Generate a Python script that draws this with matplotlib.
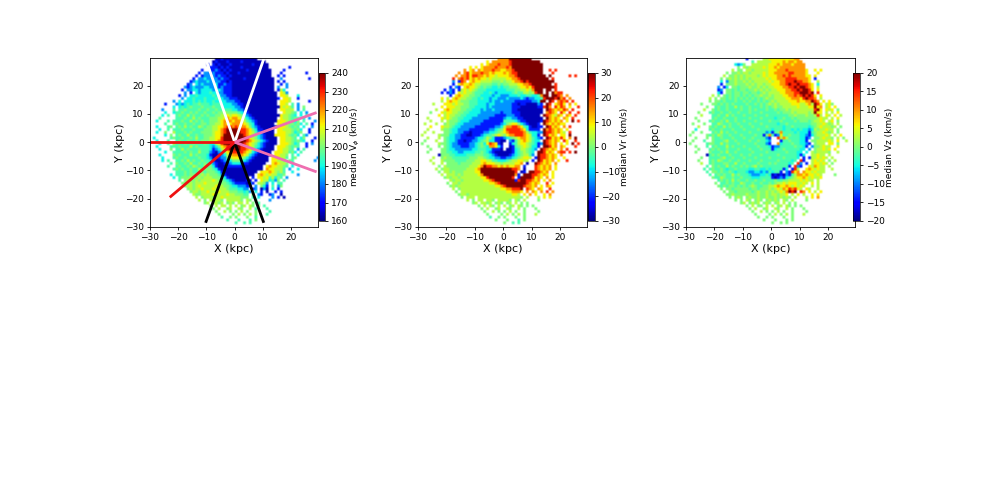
import numpy as np
import matplotlib
matplotlib.use("Agg")
import matplotlib.pyplot as plt

# Estimated map, 1 kpc cells, rows from Y=29 down to Y=-30, six 10-kpc column groups from X=-30.
# Letters name a jet colour, decoded to a fraction of the colour range below.
LEVELS = {"D": 0.05, "B": 0.15, "A": 0.27, "C": 0.37, "T": 0.44, "G": 0.5,
          "L": 0.57, "Y": 0.65, "O": 0.75, "R": 0.87, "M": 1.0}
E = ".........."

vphi_rows = [
f"{E} {E} ...DDBDDDD DDDDDDDD.. {E} {E}",
f"{E} {E} ..DBDDDBDD DDBDDDDDDD D......... {E}",
f"{E} {E} B.BDBDDDBD DDDDDDBDDD DD........ {E}",
f"{E} {E} .BBBDBDBDD DDBDDDDDDD DD.......B {E}",
f"{E} ........B. .BBABDBDBD DDDDBDDDDD DDD....B.. {E}",
f"{E} .......B.A ABABBBDBDD DBDDDDDDDD DDD...B... .....B....",
f"{E} ......B.BA AAABABBDBD DDDDDDDDDD DDD..B.B.. {E}",
f"{E} .....B.AAC AAAABABBDD DDDBDDDDDD DDDD..A... ......B...",
f"{E} ....BACAAA CAAAABBDBD DDDDDDDDDD DDDD.B.B.. {E}",
f"{E} ...BA.CACA AAACBBABBD DDDDDDDDDD DDDD..B.A. {E}",
f"{E} ..ABACAAAC CAACBABBBD DDDDDDDDDD DDDD.A..A. {E}",
f"{E} .B.AACCACC CCAACABBBD DDDDDDDDDD DDDD.BLC.. {E}",
f"{E} ..A.B.CACC CTCCAABBBD DDDDDDDDDD DDDDD.YLA. {E}",
f"{E} B.A.CCTCCC CCTCCAABBD DDDDDDDDDD DDDDD.YYL. ..C.......",
f"{E} .A.CCTCCCT CCCTCCAABB BDDDDDDDDD DDDDDB.YYL ..B.......",
f"........A. C.CCCTCTCT CCTCCCCAAA BBDDDDDDDD DDDDD.YYYL ......B...",
f".....B...A CACTCTTGTT TCTTTCCCCA ABBDDDDDDD DDDDD.YYL. T.A.......",
f"........C. CTCTGTTTGT TTGTTTCCCC AABDDDDDDD DDDDDDYLYL T.A.G.....",
f"....A...T. TTGTTTTGTT GTTGTTTTTC CAABDDDDDD DDDDD.YYLL L.A.T.....",
f".....C..CT TGTTGTGTTG TTGTGGLGGG GTCABDDDDD DDDDD..YLL GT.C.A....",
f"....C.T..T GTTLTGTTGT GTTGGLLYLY YLGCABDDDD DDDDDDYLLG TC.C.T....",
f"...T.....T TTGTTLTGTT TGGGLLYOYO OYLGCABDDD DDDDD.YLLG TGT.C.A...",
f"..C...T.TT TGTTLTGTGT TGGGLYOOOY OOYLTCABDD DDDDDYYYLG TCG.T...A.",
f".....T..TG TTGTTGTTGG TGGLLYOYYO OOOYLTCBDD DDDD.YYLLG GTGC.T.B..",
f"..C...TG.T GTLTGTTLGT GGLLYYORRO ROOOYGCABD DDDDDYYYLG TGT.C..A..",
f"...C..T.TT TGTTTGTTTG GGLLYORMMM MRRROYGCBB DDDD.YYLLL GTGC..B...",
f"..C..G..LT TTGTGTTTGG GGLYYORMMM MMRROYLTAB DDDD.YYYLL GCTG..B...",
f".....C.G.T GTTLTTGTTG GGLYYOMMMM MMMROYLGCA BDDDYYYYLG TGC.TA....",
f".C.....TGT TGTTGTLTTG GLLYYRMMMM MMMMRYLGCA BDDDD.YYLL GT.CG...B.",
f"..C...T..T GTTGTTGTGG GLLYORMMMM MMMMROYLGC ABDDD.YYLL GTGTC..B..",
f"...C..T.LT TTGTTGTTTG TCCLYRMMMM MMMROYLGCA BDDDD.YYYL GCT..B.A..",
f"..C....TTT GTTTLTGTTT TCACGYORMM MMRROYLTCA BDDD.YYYLG TGT..B....",
f"...C...G.T TLTGTTTGTT TCBACLYRMR MMRROYGCAB DDDD.YYLLG T.A.T.....",
f".....C..TT TTGTGTTLTT TABDACGYOR RRROYLCABD DDD.YYYLLT GC.T......",
f"...C....GT GTTTLTGTTT CBDDBACLYO OOOYLCABDD DDD.YYLLG. T.C.......",
f"....C...TG TTGTTTTGTT CADDBAAGLY YYLGCABDDD DD.YYYLLT. TG.......A",
f"....C.T..T TGTLTGTTGT TCBDDBACCG GGTCABDDDD DD.YYLLG.G T.......A.",
f".......T.G TTGTLTTGTG TTABDDBBAC CCABBDDDDD D..YOYLLG. C.........",
f"......T..T GTTGTLGTTL TGCBDDDBBB BBBDDDDDDD .YOYYLLGT. C.........",
f"........TG TGTTGTTLTG GGTCBDDDDD DDDDDDDDDD .OYYLLLT.A ..C.......",
f".........T TTGTGTTGGT GGGTCBDDDD DDDDDDDD.Y YYOYLGLT.. C.........",
f".......C.T TTGTGGGGLG LGGGTABDDD DDDDDDD.YO YLYLLTTG.. ..A.......",
f"........C. TGGGLGGLGL LLGGGTCBDD DDDDD.B.YY LYTLCGT.A. {E}",
f"{E} T.GLGGLGLL LLYLGGTCAB DDDDBD.B.Y LLCTAG.T.. {E}",
f"{E} .GGGLGLLLY LLLLLGGTCA BBBBDAB.LL GA.C.TT... {E}",
f"{E} ..GLLGLYLL LLLYLLGGTC CAAABB.A.G CB.T.AG... {E}",
f"{E} ...GLGLLYL LLYLLLLGTT TCCAA.BA.D AD.C.B.... {E}",
f"{E} ....GLLGLL YLLLYLLLGG GTTCTA.C.B .D..B.B... {E}",
f"{E} .....LGGLL LLYLLLLYLL GGGTT.G.AB ..BA..D... {E}",
f"{E} ......L.GL LLGLLYLLLL LLGGG.T.C. ...A.B.D.. {E}",
f"{E} .......L.G .LLLLG.LLL LLG.LG.T.. ..A....... {E}",
f"{E} .........G L.LLGL.GLG .LL.L.G.T. {E} {E}",
f"{E} {E} .G.L.LL.L. L.GL.LG.G. T......... {E}",
f"{E} {E} ..G.L..GL. .LG..L.T.. .T........ {E}",
f"{E} {E} ...G..L.G. G.L.G..G.. ..T....... {E}",
f"{E} {E} ....G....G .L.G.L.G.. .T........ {E}",
f"{E} {E} .....T..G. G...G..T.. {E} {E}",
f"{E} {E} .......T.. .T...T.G.. {E} {E}",
f"{E} {E} {E} T..T.T.... {E} {E}",
f"{E} {E} {E} {E} {E} {E}",
]
vr_rows = [
f"{E} {E} ........OO OOMMMMMMMM {E} {E}",
f"{E} {E} ....Y.OOOO OORMMMMMMM MMM....... {E}",
f"{E} {E} ..Y.YOOORO OORMMMMMMM MMMM...... {E}",
f"{E} ........Y. Y.YOOOOROO OROMMMMMMM MMMM...... {E}",
f"{E} ......O.YO .OYOOOROOY YOORMMMMMM MMMM..R.R. {E}",
f"{E} ....O.ORYO OOROOYOYYY OYORRMMMMM MMMM...R.. {E}",
f"{E} ...O.OORYR ROOYOYYLYY YYOORMMMMM MMMMM.M... ...R.R....",
f"{E} ..R.ORORYO YOYYLYLLLL LYYOORMMMM MMMMMM.R.. {E}",
f"{E} ..A.BRO.YO YYLLLLGGGL GLLYOORMRM MMMMMMMM.. {E}",
f"{E} ..B.YOYYOY LLGGGGTTGT GGLLLYYOOR MMMMMMM.R. {E}",
f"{E} .B.AB.YOYY LGTGTTCCTC TTGGGLYYOY RMMMMMMMR. {E}",
f".........B .AB.BLYLYL GTTTCCCCCC CTTTGGLLYL OMMM.MM.R. {E}",
f"........B. BAB.YLYLLG TTTCCTCACC CCCTGTTLLG LRMM.M.MOR R.........",
f"{E} .B.YOYLLGG TTCCCCACCA AACCCTCCTT CCTOMM.MMR O.O.......",
f"........Y. L.YOYLLGGT TCTCCACCAA ACAAAACABA ACCTRMMMRM OR.O......",
f"........L. YOYYLGGGTT TCCCCACAAC AAAABBBBBB AACMM.MR.O ROR.R.....",
f".....L...Y YYLYLLGGTT TCCCACCAAA AAABBDBBDD DDAB.MR.YO RY.O.Y....",
f"........Y. YYYLLGGGTT CCCCACAAAA AAABBBDDDD DDBBRMO.RY RO.Y..R...",
f"......L..Y OYLLLGGTTC CCACAACAAA AAABBDDDDD DDDD.MROYO YRO.R.....",
f"....G...YL YYLLGGTTCC CCAAAAAAAB AAABBBDDDD DDDD.OROY. RY.R..R...",
f".......Y.L YLLGGTTCCC CAAAAAABBB BAAABBDDDD DDD.MROYLO Y.OY.R....",
f"...L....YL YLGGTTCCCA AAAAABBBBB ACCAABBDDD DDDD.MOYOY .OY.R.....",
f"....L...L. LGGGTCCCAA AAABBBBBBB TTTTCABBDD DDDBMROYOY O.Y.M.R...",
f"..L...L..G LGGTCCAAAA AABBBBBBBA CGLYYGCABD DDB.MOYOYO YY........",
f"....Y...YL LGTCCAAAAA BBBBBBBAAC LOORROYTCB DDBB.MRYOY .O.R......",
f"...L....LG GTCCAAAABB BBBBBAACTG YRRRRROYCB BBB.MOROYO Y.Y.......",
f"..L..L...G GTCCAABBDB BBBAACCTGL YORRRRROLT CCAAMRROYO YL.R......",
f".L.....LGG GCCAABBDDB BBACTTGLYL GYOORRROYL CCB.MRYOY. YY.M......",
f"...L...L.G TCCAABBBBB ACCTLGCBBB ACTGLYOOYL TCAB.MRYOY RY.O.M....",
f"..G...L..G TCCABBDBBA ACTGLCCBBD D.ABTLYOYL TCC.MROYOY .RY..R....",
f".G.....LGG TCAABBBBAA CTGCYROYBD ..BCTLYYLG TCBAMROYO. Y.Y.M.R...",
f"...G...G.G TCAAABBBAA CTGTCOOYCB ..DBTGLYLG CCB.MMRYO. OY...R....",
f"....G...GG TCCAAAAAAC CTTTCCBBBD .DDBCTLLGT CA.MROYOY. O.R.......",
f"...G....GG TTCCAACCCC TTGTCABDDD DDDBCTGLGT C.MMRYOY.O RR.R.M....",
f".......DGG GTTCCCCTTT GGGTTCABDD DDBACTGLLT A.MRROYOY. O.........",
f".....L..GL GGTTTTTTGG GLLGTCCAAB BAACTGLYYL .BMRROYOY. .Y........",
f"....L...LG GGGTTTTGGG LLYYLLTTCC CTGLLYYLL. B.MRYOYO.Y ..R.......",
f".....L..L. GGGGTGGGGL LLYOYYYLLG LLLLYYO.D. .MROYOY.O. {E}",
f".......G.L GGGGGGGGLL LYOMRROOYO YOYYOO.B.. .ROYOYO.Y. {E}",
f"......L.GL LGGGGGGLLL YOMMMMMMMM MMMRRO.D.. .ROYOYO.Y. {E}",
f".......G.L LGLGGGLLLL YYMMMMMMMM MMMMR.DB.M MRROYO.Y.. {E}",
f"........L. LLLGLGLLLL LYOMMMMMMM MMMMOB.MMM RROYOY.Y.. {E}",
f".........G LGLLGLLLLL LLYYRMMMMM MMMR.BMMMM RYOY.O.Y.. {E}",
f"{E} .LGLLGLLLL LLLYYORMMM MMMMBRMMRR OYO.Y.O... {E}",
f"{E} G.LLGLLLLL LLLLLYYORM MMMMMMMMRO YOY..R.Y.. {E}",
f"{E} .GLGLLLLLL LLLLLLLYYO RMMMMMMROO YO.Y.OY... {E}",
f"{E} ..L.GLLLLL LLLLLLLLLY YOORRRM.RO Y.OY..R... {E}",
f"{E} ...G.LLLLL LLLLLLLLLL LYYOOOY.O. OY.O.R.O.. {E}",
f"{E} ....GLLGLL LLLLLLLLLL LLLYYL.Y.O .Y..Y.O... {E}",
f"{E} .....G.LLL .LLLLLLLLL LLLLLLG.L. ..L.Y.Y... {E}",
f"{E} .......L.G .LL.LLG.LL LLG.LG.L.. ..G....... {E}",
f"{E} .........G L.LLGL.GLG .GL.L.G.G. {E} {E}",
f"{E} {E} .G.L.LG.L. L.GL.LG.G. G......... {E}",
f"{E} {E} ..G.L..GL. .LG..L.G.. .G........ {E}",
f"{E} {E} ...G..L.G. G.L.G..G.. ..G....... {E}",
f"{E} {E} ....G....G .L.G.L.G.. .L........ {E}",
f"{E} {E} .....T..G. G...G..G.. {E} {E}",
f"{E} {E} .......G.. .G...T.G.. {E} {E}",
f"{E} {E} {E} G..T.T.... {E} {E}",
f"{E} {E} {E} {E} {E} {E}",
]
vz_rows = [
f"{E} {E} .B.....LLY YYYYYYYYOO {E} {E}",
f"{E} {E} ...T.LLLLL YYYYOYOOYO O......... {E}",
f"{E} .......CAC G..LLLLLLY YYOYOOOYOO OO........ {E}",
f"{E} ........G. LGLLLLLYLY YOYOOOOOOO OO........ {E}",
f"{E} ......L.GG .LLGLLLLLY YYOOOROOOO OOY..Y.Y.. {E}",
f"{E} ....G.GGLG LLGLLLLYLY YOOOOORROO OOY...Y... {E}",
f"{E} ...L.GGLGL GLLLLGLYLY YYOOROROOO OOYY.Y.... {E}",
f"{E} ..G.GLGLGL GLGLLLLLYL YYOOORRRRO OOOY.B.... {E}",
f"{E} ..C.AGGLGG LGLGLLLLLY LYYOORRRMR ROOY..L... {E}",
f"{E} ..B.GGGLGG GLGLGLLGLL YYYOORMRRM RRROY.C... {E}",
f"{E} .A.BC.GGTG GGLGGLGLGL LYYYOORRMR MMROY.L... {E}",
f"{E} .BA.GGTGTG GTGGLGLGLG LLYYYOORRM RMMRY.Y... {E}",
f"{E} .CB.GGTGGT GGTGGTGLGL LLLYYOOORR MMMRM.R... {E}",
f".........L .G.GTGTGGT GTGTGGLGGL GLLLYYOORO RMRMRY.Y.. {E}",
f"........L. G.GGTGTGTG TGTGTGTGLG GLLLLYYOOO YRMRRO.L.. {E}",
f"........G. GGTGTTTGTT GTGTTGTGTG LGLLLLYYYO YYOOMRO.Y. Y.........",
f".....G...G GTGTGTGTTT TGTTGTGTGL GLGLLLLYYY LLYOLMRY.L YG........",
f".......G.. TGTTGTTLTG TTGTTTGTGT GLGGLLLLLY LLLYYMYO.L Y.Y.......",
f"......L..G TGTTGTTTTG TTGTGTTTGT TGTGGLGLLL LLLLLRMY.Y LY.G......",
f"....G...TG TTGTTGTTGT TTGTTTGTTT TTGTGGGLGL LLLGLMYY.L .L.Y......",
f".....L...T TGTTLTGTTT GTTTGTTTGT TTTTTTGGLG GGLGGLRL.Y L.Y.L.....",
f"...G.....T GTTGTTTGTT TTGTTTGTTT TCTTGTTGTG GGGGGGLYLL .L.Y......",
f"....G...TG TTGTLTTGTT GTTTGTTTTG TTTGTTTTGT GGGTGLLYL. LY.G......",
f"..G...G..T TLGTTGTTGT TTGTTTGTTT TTCTTGTTTT TTTTGGLLYL GL.L......",
f"....L...GT GTTLTGTTTG TTTGTTTTGT TTTTCTTGTT TTTCTGLYLL LGL.G.....",
f"...C....TG TTGTTTGTTT GTTTTGTTTT CTTTCTTCTC TCCACLGLLY LL.G......",
f"..G..G...T GTLTGTTGTT TTGTTTTTAC BTGOTTTTCT CCCBTGLLYL GL.G......",
f".G.....GTG TLGTTGTTTG TTTTGTTBGO TBAYTTGTTT CCABCGLLLY L.L.Y.....",
f"...G...G.G TTGTTTGTTT GTTGTTTTAB ..RLOLTTTT CCBA.GGLYL LG.L.G....",
f"..G...T..G TTTGLTTGTT TTGTTGTTCA ...BTTGTTT CCB.GGLLLL YL.Y..L...",
f".G.....TGG TTLTGTTTGT TTTTGTTTAB ..OCTTTGTT CCAB.GLLL. YY.G......",
f"...G...T.T GTTTLTGTTT GTTTTGTTTC BAATTTTTGT TCB.AGGLYL L..Y......",
f"....G...TG TGTTGTTTGT TTGTTTGTTT BCTTGTTTTT CC.A.GLLYL Y.Y.......",
f"...G....GT TTGTLTTGTT TTTGTTTTGT TTTTTGTTTC C.C.LGLLLL G..L......",
f".......DTG TGTTTGTTTG TTGTTTGTTT TTGTTTTTTC BC..LLYLL. L.........",
f".....G..TT TTGLTTGTTT GTTTGTTTTG TTTTGTTTTC .B.BLLYLYL .L........",
f"....G...TG TLGTTGTTGT TTGTTTGTTT TTGTTTTCT. RB..LYLYL. G.L.......",
f".....L..TG TTTGGTTLTT GTTTTGTTTG TGTTTTCT.R A.B.LYYLYL .G........",
f".......T.G TGTTLTGTTG TGTGLTGTTT TTTTTTB.RA B..YLOYLL. L.........",
f"......T.TG TTGTCTTGTT TTCCTTCCTC TTTTBC.BRL ..YOYLYLL. .L........",
f".......T.G GTGTTGTCTT TCAACCACAT CTTB.ABRYO .OYYLYLLL. {E}",
f"........T. TGTGTTLTGT TTCAAACCTC DBDBDABTLO OYOYYLYL.. ..G.......",
f".........G TTLGTTGTTG TTTCCCTTTT BDBABCTGLY YOYLYLLY.. {E}",
f"{E} .TGTGTLTGT TGTTGTTGTT TGTTGGLLLL YLYLL.L... {E}",
f"{E} G.TTGTGTTL GTTGTTGTTG TGLLYLYYYL LYL.Y.L... {E}",
f"{E} .GTGTGGTGT GTGLGTTGGL LYOYYOYLYL YL..L.L... {E}",
f"{E} ..G.GGTGGG GGTGGTGGGL GLYLOYRORY L.YL..L... {E}",
f"{E} ...G.GGTGG GGGTGLGGLG LGLYLOMRM. RO.Y.L.Y.. {E}",
f"{E} ....GGLGGG GLGGGLGGLG LLGLLY.L.Y .L..Y.Y... {E}",
f"{E} .....G.GLG .GLGGLGGLG GLGLGLG.L. ..L.Y.O... {E}",
f"{E} .......G.G .LG.GLG.GL GLG.LG.L.. ..G....... {E}",
f"{E} .........G L.GLGL.GLG .GL.L.G.G. {E} {E}",
f"{E} {E} .G.L.GG.L. L.GL.LG.G. G......... {E}",
f"{E} {E} ..G.L..GL. .LG..L.G.. .G........ {E}",
f"{E} {E} ...G..L.G. G.L.G..G.. ..G....... {E}",
f"{E} {E} ....G....G .L.G.L.G.. .L........ {E}",
f"{E} {E} .....G..G. G...G..G.. {E} {E}",
f"{E} {E} .......G.. .G...G.G.. {E} {E}",
f"{E} {E} {E} G..G.G.... {E} {E}",
f"{E} {E} {E} {E} {E} {E}",
]
xy_ticks = [-30, -20, -10, 0, 10, 20]

vphi_range = (160, 240)
vr_range = (-30, 30)
vz_range = (-20, 20)
vphi_ticks = list(range(160, 241, 10))
vr_ticks = list(range(-30, 31, 10))
vz_ticks = list(range(-20, 21, 5))

spoke_ends_white = [(-10.3, 29.5), (10.3, 29.5)]
spoke_ends_black = [(-10.3, -28.5), (10.3, -28.5)]
spoke_ends_red = [(-30, 0), (-23, -19.5)]
spoke_ends_pink = [(29, 10.5), (29, -10.5)]

W, H = 981, 491


def decode(rows, vrange):
    out = np.full((60, 60), np.nan)
    for i, row in enumerate(rows):
        groups = [g.ljust(10, ".")[:10] for g in row.split()]
        for j, ch in enumerate("".join(groups)[:60]):
            if ch in LEVELS:
                out[59 - i, j] = vrange[0] + LEVELS[ch] * (vrange[1] - vrange[0])
    return out


jet_white = plt.get_cmap("jet").copy()
jet_white.set_bad("white")


def panel(x0, x1, cb0, cb1, rows, vrange, ticks, label):
    ax = fig.add_axes([x0 / W, 1 - 227 / H, (x1 - x0) / W, (227 - 58) / H])
    m = ax.imshow(np.ma.masked_invalid(decode(rows, vrange)), cmap=jet_white,
                  vmin=vrange[0], vmax=vrange[1], origin="lower",
                  extent=(-30, 30, -30, 30), aspect="auto",
                  interpolation="hanning", interpolation_stage="rgba")
    ax.set_xlim(-30, 29.5)
    ax.set_ylim(-30, 29.8)
    ax.set_xticks(xy_ticks)
    ax.set_yticks(xy_ticks)
    ax.tick_params(labelsize=6.5, length=2.5, width=0.6, pad=2)
    ax.set_xlabel("X (kpc)", fontsize=8, labelpad=1)
    ax.set_ylabel("Y (kpc)", fontsize=8, labelpad=0)
    for s in ax.spines.values():
        s.set_linewidth(0.6)
    cax = fig.add_axes([cb0 / W, 1 - 221 / H, (cb1 - cb0) / W, (221 - 73) / H])
    cb = fig.colorbar(m, cax=cax)
    cb.set_ticks(ticks)
    cb.ax.tick_params(labelsize=6.5, length=2.5, width=0.6, pad=2)
    cb.set_label(label, fontsize=6.5, labelpad=0)
    cb.outline.set_linewidth(0.5)
    return ax


fig = plt.figure(figsize=(W / 100, H / 100), dpi=100)
ax1 = panel(150, 318, 318.5, 325, vphi_rows, vphi_range, vphi_ticks, r"median V$_{\phi}$ (km/s)")
panel(418, 587, 588, 594.5, vr_rows, vr_range, vr_ticks, "median Vr (km/s)")
panel(686, 855, 853, 860, vz_rows, vz_range, vz_ticks, "median Vz (km/s)")

for ends, color in [(spoke_ends_white, "white"), (spoke_ends_black, "black"),
                    (spoke_ends_red, "#ee1111"), (spoke_ends_pink, "#ee6fb0")]:
    for ex, ey in ends:
        ax1.plot([0, ex], [0, ey], color=color, lw=2.0, solid_capstyle="butt")
ax1.set_xlim(-30, 29.5)
ax1.set_ylim(-30, 29.8)

fig.savefig("out.png", dpi=100)
